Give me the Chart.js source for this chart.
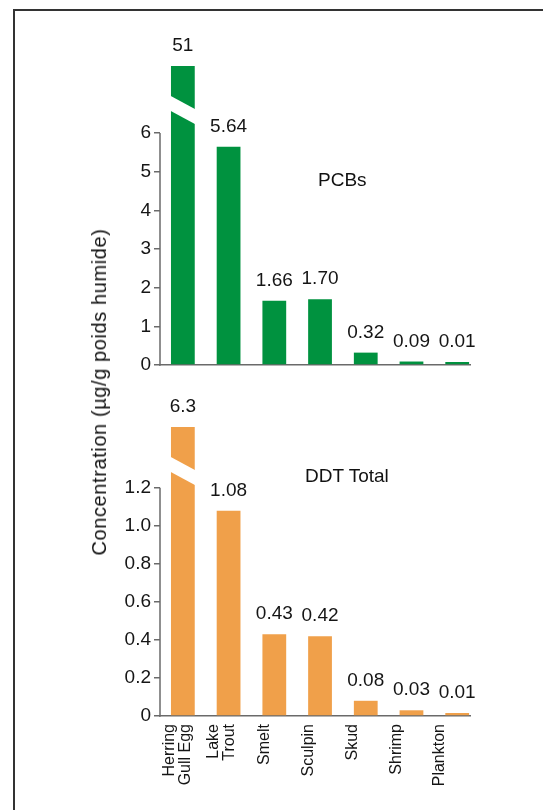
<!DOCTYPE html>
<html><head><meta charset="utf-8">
<script src="https://cdn.jsdelivr.net/npm/chart.js@4"></script>
<style>
html,body{margin:0;padding:0;background:#fff;width:543px;height:810px;overflow:hidden;position:relative;font-family:"Liberation Sans",Arial,sans-serif;}
#frame{position:absolute;left:13px;top:9px;width:700px;height:1000px;border-left:2px solid #333;border-top:2px solid #333;}
#c1wrap{position:absolute;left:0;top:0;width:543px;height:380px;}
#c2wrap{position:absolute;left:0;top:380px;width:543px;height:430px;}
.lbl{position:absolute;font-size:19px;line-height:19px;color:#111;white-space:nowrap;}
#ytitle{position:absolute;left:99px;top:392px;transform:translate(-50%,-50%) rotate(-90deg);font-size:20px;line-height:20px;letter-spacing:0.6px;white-space:nowrap;color:#111;}
</style></head>
<body>
<div id="frame"></div>
<div id="c1wrap"><canvas id="c1" width="543" height="380"></canvas></div>
<div id="c2wrap"><canvas id="c2" width="543" height="430"></canvas></div>
<div class="lbl" style="left:318px;top:170px;">PCBs</div>
<div class="lbl" style="left:305px;top:466px;">DDT Total</div>
<div id="ytitle">Concentration (µg/g poids humide)</div>
<script>
const categories = [['Herring','Gull Egg'], ['Lake','Trout'], 'Smelt', 'Sculpin', 'Skud', 'Shrimp', 'Plankton'];
const pcbValues = [51, 5.64, 1.66, 1.70, 0.32, 0.09, 0.01];
const pcbLabels = ['51', '5.64', '1.66', '1.70', '0.32', '0.09', '0.01'];
const ddtValues = [6.3, 1.08, 0.43, 0.42, 0.08, 0.03, 0.01];
const ddtLabels = ['6.3', '1.08', '0.43', '0.42', '0.08', '0.03', '0.01'];
const pcbTicks = [0, 1, 2, 3, 4, 5, 6];
const ddtTicks = [0, 0.2, 0.4, 0.6, 0.8, 1.0, 1.2];

const FONT = '"Liberation Sans", Arial, sans-serif';
const AXIS_COLOR = '#6a6a6a';
const TEXT_COLOR = '#151515';

const decorPlugin = {
  id: 'decor',
  afterDatasetsDraw(chart, args, opts) {
    const ctx = chart.ctx;
    const ca = chart.chartArea;
    const y = chart.scales.y;
    const meta = chart.getDatasetMeta(0);
    ctx.save();
    ctx.strokeStyle = AXIS_COLOR;
    ctx.lineWidth = 1.5;
    ctx.beginPath();
    ctx.moveTo(ca.left, y.getPixelForValue(0) + 0.75);
    ctx.lineTo(ca.left, y.getPixelForValue(opts.topTick));
    ctx.stroke();
    const el = meta.data[0];
    const bl = el.x - el.width / 2 - 2, br = el.x + el.width / 2 + 2;
    const slope = 13 / el.width;
    const yl = ca.top + 30 - 2 * slope, yr = ca.top + 43 + 2 * slope;
    ctx.fillStyle = '#ffffff';
    ctx.beginPath();
    ctx.moveTo(bl, yl);
    ctx.lineTo(br, yr);
    ctx.lineTo(br, yr + 15);
    ctx.lineTo(bl, yl + 15);
    ctx.closePath();
    ctx.fill();
    ctx.fillStyle = TEXT_COLOR;
    ctx.font = '19px ' + FONT;
    ctx.textAlign = 'center';
    ctx.textBaseline = 'alphabetic';
    meta.data.forEach((bar, i) => {
      const top = Math.max(bar.y, ca.top);
      ctx.fillText(opts.labels[i], bar.x, top - 15);
    });
    ctx.restore();
  }
};

function makeChart(id, values, labels, ticks, color, yMax, padTop, xHeight, showX, tickFmt) {
  return new Chart(document.getElementById(id), {
    type: 'bar',
    data: {
      datasets: [{
        data: values.map((v, i) => ({ x: i, y: v })),
        backgroundColor: color,
        borderWidth: 0,
        categoryPercentage: 1,
        barPercentage: 0.52,
        minBarLength: 3
      }]
    },
    options: {
      responsive: false,
      animation: false,
      events: [],
      layout: { padding: { left: 0, right: 73, top: padTop, bottom: 0 } },
      plugins: {
        legend: { display: false },
        tooltip: { enabled: false },
        decor: { labels: labels, topTick: ticks[ticks.length - 1] }
      },
      scales: {
        x: {
          type: 'linear',
          position: 'bottom',
          offset: false,
          min: -0.5,
          max: 6.28,
          afterBuildTicks: s => { s.ticks = categories.map((c, i) => ({ value: i })); },
          afterFit: s => { s.height = 0; },
          grid: { display: true, offset: false, drawOnChartArea: false, drawTicks: false, color: 'rgba(0,0,0,0)' },
          border: { display: true, color: AXIS_COLOR, width: 1.5 },
          ticks: { display: false }
        },
        xl: {
          type: 'linear',
          position: 'bottom',
          offset: false,
          min: -0.4,
          max: 6.686,
          afterBuildTicks: s => {
            s.ticks = categories.map((c, i) => ({ value: Array.isArray(c) ? i - 0.18 : i }));
          },
          afterFit: s => { s.height = xHeight; },
          grid: { display: false, drawTicks: false },
          border: { display: false },
          ticks: {
            display: showX,
            autoSkip: false,
            minRotation: 90,
            maxRotation: 90,
            padding: 8,
            color: TEXT_COLOR,
            font: { family: FONT, size: 16, lineHeight: 1.0 },
            callback: v => categories[Math.round(v)]
          }
        },
        y: {
          min: 0,
          max: yMax,
          afterBuildTicks: s => { s.ticks = ticks.map(v => ({ value: v })); },
          afterFit: s => { s.width = 160; },
          grid: { display: true, drawOnChartArea: false, drawTicks: true, tickLength: 6, color: AXIS_COLOR, lineWidth: 1.5 },
          border: { display: false },
          ticks: {
            padding: 3,
            color: TEXT_COLOR,
            font: { family: FONT, size: 19 },
            callback: tickFmt
          }
        }
      }
    },
    plugins: [decorPlugin]
  });
}

makeChart('c1', pcbValues, pcbLabels, pcbTicks, '#00923f', 7.73, 66, 15, false, v => String(v));
makeChart('c2', ddtValues, ddtLabels, ddtTicks, '#f0a04a', 1.52, 47, 94, true, v => v === 0 ? '0' : v.toFixed(1));
</script>
</body></html>
